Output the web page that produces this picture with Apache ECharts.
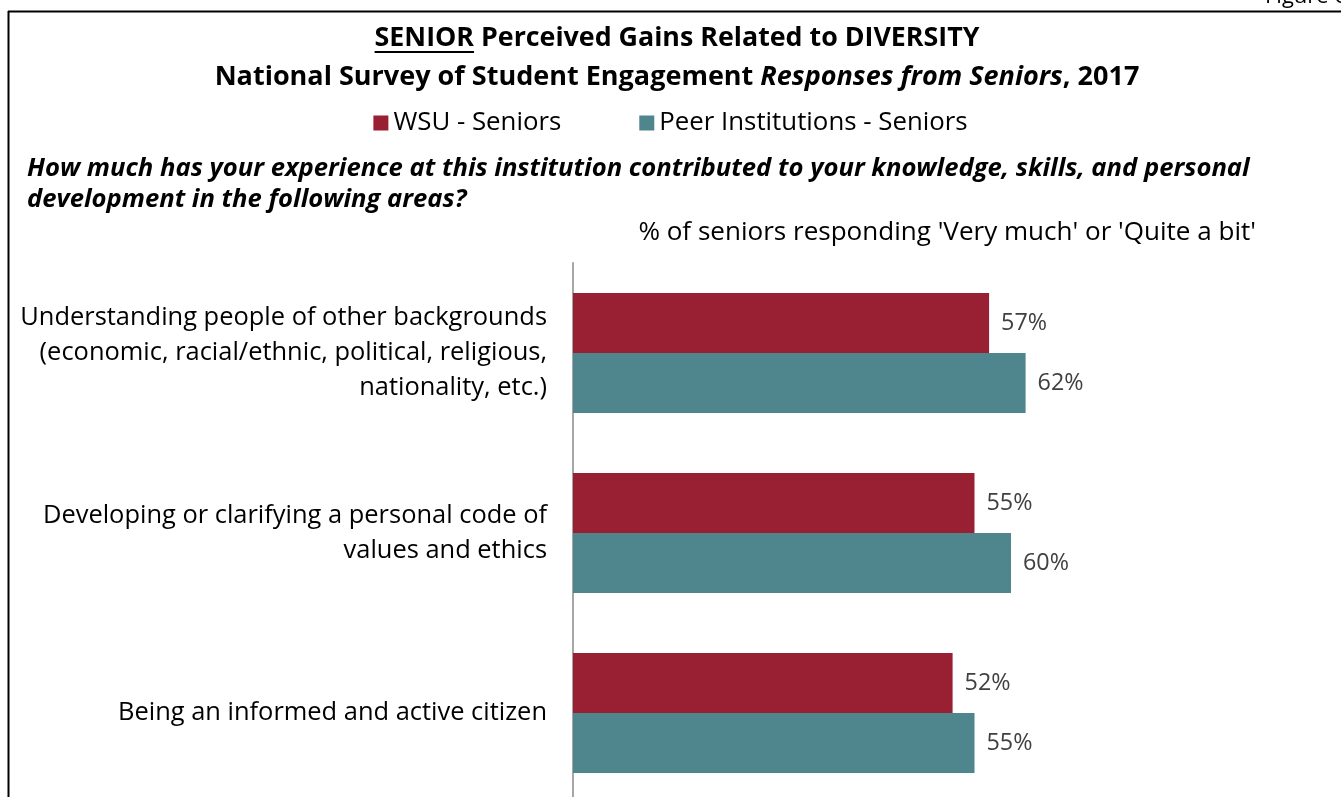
<!DOCTYPE html>
<html><head><meta charset="utf-8">
<script src="https://cdn.jsdelivr.net/npm/echarts@6/dist/echarts.min.js"></script>
<style>html,body{margin:0;padding:0;background:#fff;overflow:hidden}#c{width:1341px;height:810px}</style>
</head><body><div id="c"></div>
<script>
const categories = [
  'Understanding people of other backgrounds\n(economic, racial/ethnic, political, religious,\nnationality, etc.)',
  'Developing or clarifying a personal code of\nvalues and ethics',
  'Being an informed and active citizen'
];
const seriesNames = ['WSU - Seniors', 'Peer Institutions - Seniors'];
const wsuValues = [57, 55, 52];
const peerValues = [62, 60, 55];
const titleLine1Underlined = 'SENIOR';
const titleLine1Rest = ' Perceived Gains Related to DIVERSITY';
const titleLine2Parts = ['National Survey of Student Engagement ', 'Responses from Seniors', ', 2017'];
const questionLines = ['How much has your experience at this institution contributed to your knowledge, skills, and personal', 'development in the following areas?'];
const axisNameText = "% of seniors responding 'Very much' or 'Quite a bit'";
const figureText = 'Figure 6';

const FONT = 'Open Sans';
const colors = ['#991F33', '#4F858D'];

const ctx = document.createElement('canvas').getContext('2d');
function measure(text, prefix, size) {
  ctx.font = prefix + ' ' + size + 'px "' + FONT + '"';
  return ctx.measureText(text).width;
}
function fit(text, prefix, target) {
  return 20 * target / measure(text, prefix, 20);
}
// sizes fitted to the reference text widths
const t1Size = fit(titleLine1Underlined + titleLine1Rest, 'bold', 605);
const t2Base = 20;
const t2W = measure(titleLine2Parts[0] + titleLine2Parts[2], 'bold', t2Base) + measure(titleLine2Parts[1], 'italic bold', t2Base);
const t2Size = t2Base * 925 / t2W;
const legendSize = fit('WSU - Seniors', '', 168);
const qSize = fit(questionLines[0], 'italic bold', 1223);
const axisNameSize = fit(axisNameText, '', 618);
const catSize = fit('Understanding people of other backgrounds', '', 527);
const valSize = fit('57%', '', 46);

const wU = measure(titleLine1Underlined, 'bold', t1Size);
const wAll = measure(titleLine1Underlined + titleLine1Rest, 'bold', t1Size);
const tCenter = 677;
const uStart = tCenter - wAll / 2;

const chart = echarts.init(document.getElementById('c'), null, {renderer: 'canvas'});
chart.setOption({
  backgroundColor: '#ffffff',
  animation: false,
  textStyle: {fontFamily: FONT},
  legend: {
    data: seriesNames,
    left: 'center',
    top: 105,
    icon: 'rect',
    itemWidth: 15,
    itemHeight: 15,
    itemGap: 78,
    textStyle: {fontSize: legendSize, color: '#000', fontFamily: FONT}
  },
  grid: {left: 573, top: 263, width: 730, height: 540, containLabel: false},
  xAxis: {
    type: 'value', min: 0, max: 100, show: false,
    splitLine: {show: false}
  },
  yAxis: {
    type: 'category', data: categories, inverse: true,
    axisLine: {show: true, lineStyle: {color: '#A6A6A6', width: 2}},
    axisTick: {show: false},
    axisLabel: {fontSize: catSize, color: '#000', lineHeight: 35, margin: 26, align: 'right', fontFamily: FONT, padding: [4, 0, 0, 0]}
  },
  series: [
    {
      name: seriesNames[0], type: 'bar', data: wsuValues,
      barWidth: 60, barGap: '0%',
      itemStyle: {color: colors[0]},
      label: {show: true, position: 'right', distance: 12, formatter: '{c}%', fontSize: valSize, color: '#404040', fontFamily: FONT, padding: [2, 0, 0, 0]}
    },
    {
      name: seriesNames[1], type: 'bar', data: peerValues,
      barWidth: 60, barGap: '0%',
      itemStyle: {color: colors[1]},
      label: {show: true, position: 'right', distance: 12, formatter: '{c}%', fontSize: valSize, color: '#404040', fontFamily: FONT, padding: [2, 0, 0, 0]}
    }
  ],
  graphic: [
    {type: 'line', shape: {x1: 8, y1: 11.5, x2: 1341, y2: 11.5}, style: {stroke: '#000', lineWidth: 2}},
    {type: 'line', shape: {x1: 8.5, y1: 11, x2: 8.5, y2: 810}, style: {stroke: '#000', lineWidth: 2}},
    {type: 'text', x: 1265, y: -14, style: {text: figureText, fill: '#000', font: '22px "' + FONT + '"'}},
    {type: 'text', x: tCenter, y: 38, style: {
      text: '{b|' + titleLine1Underlined + titleLine1Rest + '}',
      align: 'center', verticalAlign: 'middle',
      rich: {b: {fontSize: t1Size, fontWeight: 'bold', fill: '#000', fontFamily: FONT}}
    }},
    {type: 'line', shape: {x1: uStart, y1: 52, x2: uStart + wU, y2: 52}, style: {stroke: '#000', lineWidth: 2}},
    {type: 'text', x: tCenter, y: 77, style: {
      text: '{b|' + titleLine2Parts[0] + '}{i|' + titleLine2Parts[1] + '}{b|' + titleLine2Parts[2] + '}',
      align: 'center', verticalAlign: 'middle',
      rich: {
        b: {fontSize: t2Size, fontWeight: 'bold', fill: '#000', fontFamily: FONT},
        i: {fontSize: t2Size, fontWeight: 'bold', fontStyle: 'italic', fill: '#000', fontFamily: FONT}
      }
    }},
    {type: 'text', x: 27, y: 169, style: {
      text: questionLines[0], verticalAlign: 'middle',
      font: 'italic bold ' + qSize + 'px "' + FONT + '"', fill: '#000'
    }},
    {type: 'text', x: 27, y: 200, style: {
      text: questionLines[1], verticalAlign: 'middle',
      font: 'italic bold ' + qSize + 'px "' + FONT + '"', fill: '#000'
    }},
    {type: 'text', x: 1256, y: 233, style: {
      text: axisNameText, align: 'right', verticalAlign: 'middle',
      font: axisNameSize + 'px "' + FONT + '"', fill: '#000'
    }}
  ]
});
</script>
</body></html>
